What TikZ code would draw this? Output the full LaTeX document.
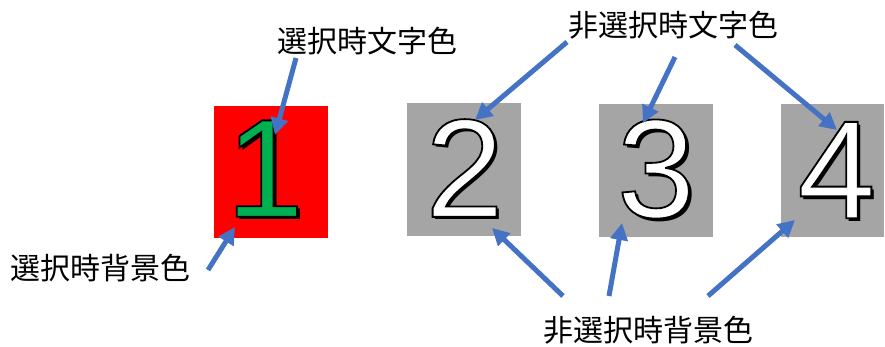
\documentclass[tikz,border=0pt]{standalone}
\usepackage{fontspec}
\usetikzlibrary{arrows.meta}
\newfontfamily\jpfont{Noto Sans CJK JP}
\newfontfamily\digitfont{Liberation Sans}
\definecolor{pointerblue}{HTML}{4472C4}
\definecolor{selbg}{HTML}{FF0000}
\definecolor{offbg}{HTML}{A5A5A5}
\definecolor{selfg}{HTML}{00B050}

\tikzset{
  tile/.style={minimum width=114pt,minimum height=133pt,inner sep=0pt,outer sep=0pt},
  callout/.style={font=\jpfont\fontsize{30}{36}\selectfont,inner sep=0pt},
  pointer/.style={draw=pointerblue,line width=5pt,-{Triangle[length=17pt,width=17pt]}},
  digit/.style={font=\digitfont\fontsize{140}{140}\selectfont,inner sep=0pt},
}

% outlined glyph (fill and stroke render mode)
\newcommand{\outlined}[1]{%
  \special{pdf:literal direct 2 Tr 1.8 w 0 G}#1\special{pdf:literal direct 0 Tr}}
% outlined glyph with a black drop shadow
\newcommand{\shadowed}[1]{%
  \rlap{\smash{\kern3pt\raisebox{-3pt}{\color{black}#1}}}\outlined{#1}}

\begin{document}
\begin{tikzpicture}[x=1pt,y=-1pt]
\path[use as bounding box] (0,0) rectangle (885,346);

% tiles
\node[tile,fill=selbg,minimum height=132pt] (tile1) at (271,172) {};
\node[tile,fill=offbg] (tile2) at (464,169.5) {};
\node[tile,fill=offbg] (tile3) at (656,170.5) {};
\node[tile,fill=offbg,minimum width=103pt] (tile4) at (832.5,170.5) {};

% digits
\node[digit,text=selfg] (num1) at (265,168.5) {\shadowed{1}};
\node[digit,text=white] (num2) at (464.5,168) {\shadowed{2}};
\node[digit,text=white] (num3) at (656,169) {\shadowed{3}};
\node[digit,text=white] (num4) at (836.5,170) {\shadowed{4}};

% labels
\node[callout] (seltext) at (367.5,41.5) {選択時文字色};
\node[callout] (offtext) at (673,25.5) {非選択時文字色};
\node[callout] (selback) at (100,268.5) {選択時背景色};
\node[callout] (offback) at (648.5,330.5) {非選択時背景色};

% arrow ends
\coordinate (a1) at (296,58);   \coordinate (b1) at (275,135);
\coordinate (a2) at (208,270);  \coordinate (b2) at (235,227);
\coordinate (a3) at (567,42);   \coordinate (b3) at (475,120);
\coordinate (a4) at (675,57);   \coordinate (b4) at (643,123);
\coordinate (a5) at (735,45);   \coordinate (b5) at (837,130);
\coordinate (a6) at (563,296);  \coordinate (b6) at (492,228);
\coordinate (a7) at (609,296);  \coordinate (b7) at (622,223);
\coordinate (a8) at (708,296);  \coordinate (b8) at (795,220);

\draw[pointer] (a1) -- (b1);
\draw[pointer] (a2) -- (b2);
\draw[pointer] (a3) -- (b3);
\draw[pointer] (a4) -- (b4);
\draw[pointer] (a5) -- (b5);
\draw[pointer] (a6) -- (b6);
\draw[pointer] (a7) -- (b7);
\draw[pointer] (a8) -- (b8);
\end{tikzpicture}
\end{document}
